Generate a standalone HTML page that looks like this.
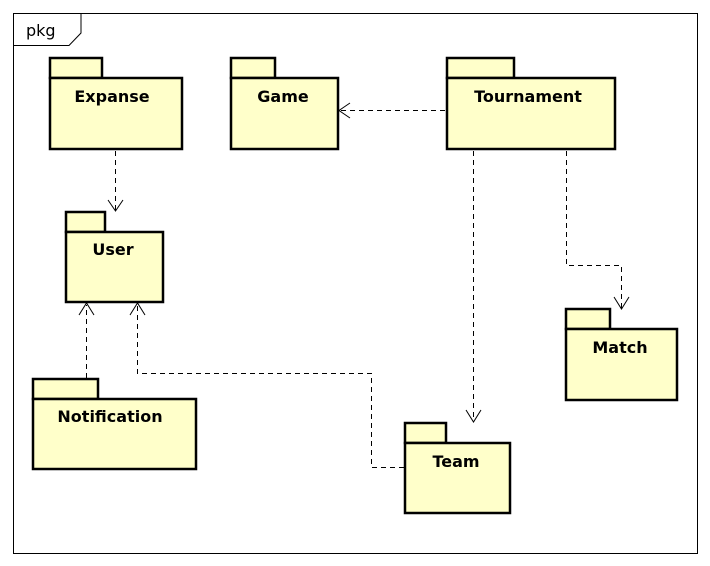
<!DOCTYPE html>
<html><head><style>
html,body{margin:0;padding:0;background:#fff;width:710px;height:566px;overflow:hidden}
text{font-family:"DejaVu Sans","Liberation Sans",sans-serif;font-weight:bold;font-size:16px;fill:#000}
</style></head><body>
<svg width="710" height="566" xmlns="http://www.w3.org/2000/svg">
<rect x="13.5" y="13.5" width="684" height="540" fill="#fff" stroke="#000" stroke-width="1"/>
<path d="M13.5 45.5 H69 L81 33 V13.5" fill="none" stroke="#000" stroke-width="1"/>
<text x="26" y="36" style="font-weight:normal;font-size:16px">pkg</text>
<g fill="#ffffca" stroke="#000" stroke-width="2.5">
<rect x="50" y="58" width="52" height="20"/><rect x="50" y="78" width="132" height="71"/>
<rect x="231" y="58" width="44" height="20"/><rect x="231" y="78" width="107" height="71"/>
<rect x="447" y="58" width="67" height="20"/><rect x="447" y="78" width="168" height="71"/>
<rect x="66" y="212" width="39" height="20"/><rect x="66" y="232" width="97" height="70"/>
<rect x="33" y="379" width="65" height="20"/><rect x="33" y="399" width="163" height="70"/>
<rect x="405" y="423" width="41" height="20"/><rect x="405" y="443" width="105" height="70"/>
<rect x="566" y="309" width="44" height="20"/><rect x="566" y="329" width="111" height="71"/>
</g>
<g text-anchor="middle">
<text x="112" y="102">Expanse</text>
<text x="283" y="102">Game</text>
<text x="528" y="102">Tournament</text>
<text x="113" y="255">User</text>
<text x="110" y="422">Notification</text>
<text x="456" y="467">Team</text>
<text x="620" y="353">Match</text>
</g>
<g fill="none" stroke="#000" stroke-width="1" stroke-dasharray="5,4">
<path d="M115.5 151 V210"/>
<path d="M445 110.5 H340"/>
<path d="M473.5 151 V421"/>
<path d="M566.5 151 V265.5 H621.5 V308"/>
<path d="M86.5 378 V305"/>
<path d="M404 467.5 H371.5 V373.5 H137.5 V305"/>
</g>
<g fill="none" stroke="#000" stroke-width="1">
<path d="M108 200 L115.5 211 L123 200"/>
<path d="M350 103 L339 110.5 L350 118"/>
<path d="M466 410 L473.5 422 L481 410"/>
<path d="M614 297 L621.5 309 L629 297"/>
<path d="M79 315 L86.5 303 L94 315"/>
<path d="M130 315 L137.5 303 L145 315"/>
</g>
</svg>
</body></html>
